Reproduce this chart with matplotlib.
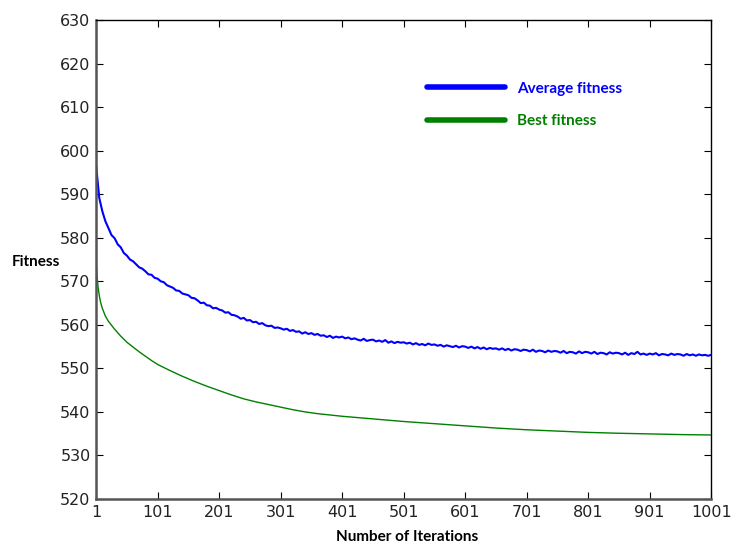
import numpy as np
import matplotlib
matplotlib.use('Agg')
import matplotlib.pyplot as plt
from matplotlib.lines import Line2D

# iterations sampled every 5 for the (noisy) average fitness
avg_iters = list(range(1, 1002, 5))
avg_fitness = [
    596.5, 589.2, 586.1, 583.8, 582.2, 580.6, 579.9, 578.5, 577.8, 576.5,
    575.9, 575.0, 574.6, 573.9, 573.2, 572.9, 572.3, 571.6, 571.5, 570.8,
    570.6, 570.0, 569.8, 569.1, 568.8, 568.5, 567.9, 567.8, 567.2, 567.0,
    566.8, 566.2, 566.1, 565.6, 565.0, 565.1, 564.5, 564.4, 563.8, 563.9,
    563.5, 563.3, 562.8, 562.9, 562.3, 562.2, 561.9, 561.4, 561.6, 561.0,
    561.1, 560.6, 560.7, 560.2, 560.4, 559.9, 559.7, 559.8, 559.3, 559.4,
    559.2, 558.9, 559.1, 558.6, 558.8, 558.4, 558.5, 558.0, 558.3, 557.9,
    558.1, 557.7, 557.9, 557.5, 557.6, 557.2, 557.5, 557.0, 557.3, 557.1,
    557.3, 556.9, 557.1, 556.7, 556.9, 556.6, 556.4, 556.8, 556.3, 556.5,
    556.6, 556.2, 556.4, 556.1, 556.5, 555.9, 556.2, 555.8, 556.1, 555.9,
    556.0, 555.7, 555.9, 555.5, 555.8, 555.4, 555.6, 555.3, 555.7, 555.4,
    555.5, 555.2, 555.4, 555.0, 555.3, 555.1, 554.9, 555.2, 554.8, 555.1,
    555.0, 554.7, 555.0, 554.6, 554.9, 554.5, 554.8, 554.4, 554.7, 554.5,
    554.6, 554.3, 554.6, 554.2, 554.5, 554.1, 554.4, 554.3, 554.0, 554.3,
    554.2, 553.9, 554.3, 553.8, 554.1, 554.0, 553.7, 554.1, 553.8, 554.0,
    553.9, 553.6, 554.0, 553.5, 553.8, 553.7, 553.4, 553.9, 553.5, 553.8,
    553.7, 553.4, 553.8, 553.3, 553.6, 553.5, 553.2, 553.7, 553.4, 553.6,
    553.5, 553.2, 553.6, 553.1, 553.5, 553.3, 553.8, 553.2, 553.4, 553.1,
    553.4, 553.2, 553.5, 553.0, 553.3, 553.2, 553.0, 553.4, 553.1, 553.3,
    553.2, 552.9, 553.3, 553.0, 553.2, 552.9, 553.2, 553.0, 553.1, 552.9,
    553.1,
]

best_iters = [1, 2, 3, 4, 6, 8, 11, 16, 21, 26, 31, 41, 51, 61, 71, 81, 91,
              101, 111, 121, 141, 161, 181, 201, 221, 241, 261, 281, 301, 321,
              341, 361, 381, 401, 451, 501, 551, 601, 651, 701, 751, 801, 851,
              901, 951, 1001]
best_fitness = [574.5, 572.0, 570.3, 568.8, 566.8, 565.3, 563.8, 562.0, 560.8,
                559.9, 559.0, 557.4, 556.0, 554.9, 553.8, 552.8, 551.8, 550.9,
                550.2, 549.5, 548.2, 547.0, 545.9, 544.9, 543.9, 543.0, 542.3,
                541.7, 541.1, 540.5, 540.0, 539.6, 539.3, 539.0, 538.4, 537.8,
                537.3, 536.8, 536.3, 535.9, 535.6, 535.3, 535.1, 534.95, 534.8,
                534.7]

x_ticks = list(range(1, 1002, 100))
y_ticks = list(range(520, 631, 10))

series_labels = ['Average fitness', 'Best fitness']
series_colors = ['#0000ff', '#008000']


def main():
    fig = plt.figure(figsize=(7.34, 5.48), dpi=100)
    ax = fig.add_axes([0.131, 0.0894, 0.838, 0.874])

    ax.plot(avg_iters, avg_fitness, color=series_colors[0], linewidth=1.5)
    ax.plot(best_iters, best_fitness, color=series_colors[1], linewidth=1.0)

    ax.set_xlim(1, 1001)
    ax.set_ylim(520, 630)
    ax.set_xticks(x_ticks)
    ax.set_yticks(y_ticks)
    ax.tick_params(direction='in', length=5, top=True, right=True,
                   labelsize=11.5, labelcolor='#222222', pad=4)
    for side in ['top', 'right']:
        ax.spines[side].set_linewidth(1.0)
        ax.spines[side].set_color('black')
    for side in ['left', 'bottom']:
        ax.spines[side].set_linewidth(1.8)
        ax.spines[side].set_color('#555555')

    # legend drawn without frame, coloured bold labels
    handles = [Line2D([0], [0], color=c, linewidth=4, solid_capstyle='round')
               for c in series_colors]
    leg = ax.legend(handles, series_labels, loc='upper left',
                    bbox_to_anchor=(0.515, 0.90), frameon=False,
                    handlelength=5.1, handletextpad=0.8, labelspacing=1.22,
                    prop={'family': 'Lato', 'weight': 'bold', 'size': 11})
    for txt, c in zip(leg.get_texts(), series_colors):
        txt.set_color(c)

    fig.text(0.016, 0.522, 'Fitness', fontsize=11, fontweight='bold',
             family='Lato', va='center', ha='left')
    fig.text(0.555, 0.02, 'Number of Iterations', fontsize=11, fontweight='bold',
             family='Lato', va='center', ha='center')

    fig.savefig('out.png', dpi=100)


if __name__ == "__main__":
    main()
